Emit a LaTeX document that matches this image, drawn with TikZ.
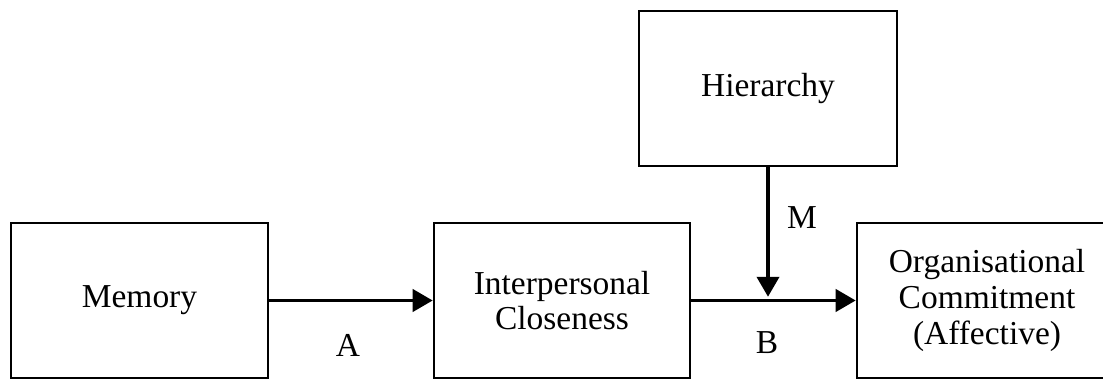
\documentclass[tikz,border=0pt]{standalone}
\usepackage{fontspec}
\setmainfont{Liberation Serif}
\usetikzlibrary{arrows.meta}

\begin{document}
\begin{tikzpicture}[
  box/.style={draw, line width=1.8pt, inner sep=0pt, align=center, minimum height=3.875cm},
  path arrow/.style={line width=2.8pt, -{Triangle[length=0.5cm,width=0.55cm]}},
  font=\fontsize{23.8}{25.3}\selectfont
]
\useasboundingbox (0,0) rectangle (27.575,9.5);
\clip (0,0) rectangle (27.575,9.5);

\node[box, minimum width=6.425cm] (memory) at (3.4875,1.9875) {Memory};
\node[box, minimum width=6.4cm] (closeness) at (14.05,1.9875) {Interpersonal\\Closeness};
\node[box, minimum width=6.5cm] (commitment) at (24.675,1.9875) {Organisational\\Commitment\\(Affective)};
\node[box, minimum width=6.45cm] (hierarchy) at (19.2,7.2875) {Hierarchy};
\coordinate (join) at (hierarchy.south |- 0,2.08);

\draw[path arrow] (memory) -- (closeness);
\draw[path arrow] (closeness) -- (commitment);
\draw[path arrow] (hierarchy) -- (join);

\node (a) at (8.7,0.875) {A};
\node (b) at (19.175,0.925) {B};
\node (m) at (20.05,4.05) {M};
\end{tikzpicture}
\end{document}
